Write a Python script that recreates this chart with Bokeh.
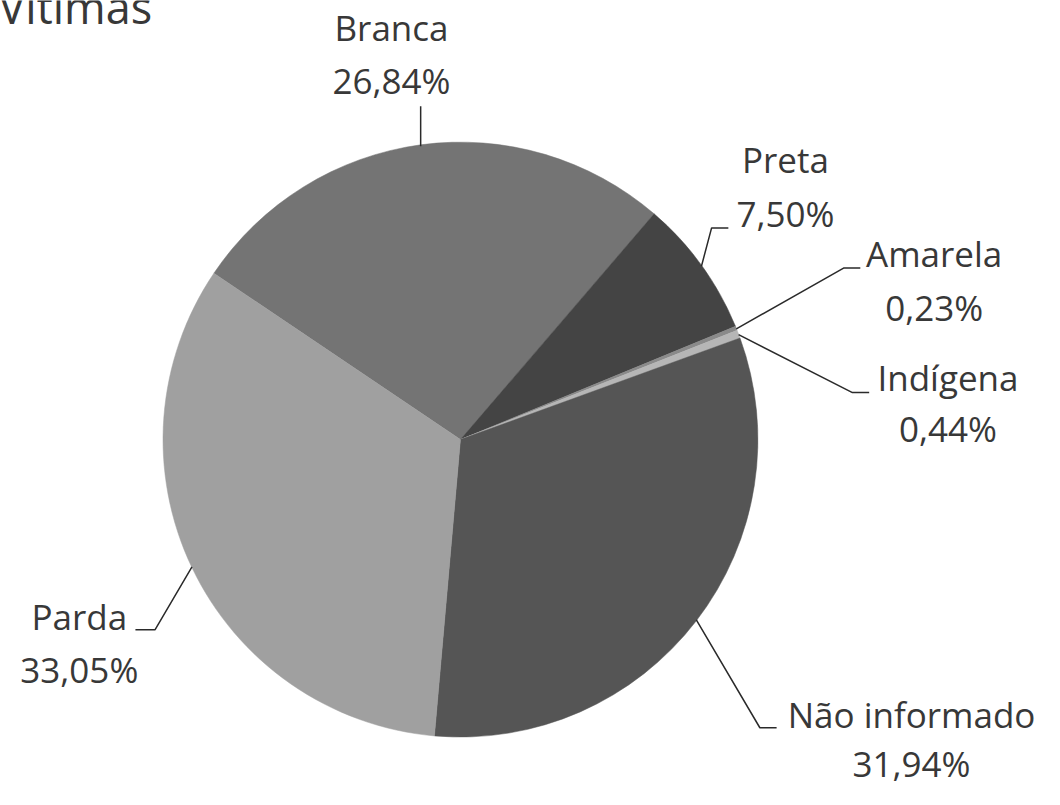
import math
from bokeh.plotting import figure
from bokeh.models import Range1d, ColumnDataSource
from bokeh.core.properties import value
from bokeh.embed import file_html
from bokeh.resources import INLINE

# ---- data ----
categories = ["Branca", "Preta", "Amarela", "Indígena", "Não informado", "Parda"]
percentages = [26.84, 7.50, 0.23, 0.44, 31.94, 33.05]
colors = ["#747474", "#444444", "#8a8a8a", "#b6b6b6", "#555555", "#a0a0a0"]
title_text = "Vítimas"

# ---- layout (reference pixel coordinates, y downward) ----
W, H = 1060, 805
CX, CY, R = 467, 448, 302
START_DEG = 146.0
FONT = value("Open Sans")
FS = "35px"
TXT = "#383838"
TEXT_DY = 15      # compensation for how the baseline is placed
TITLE_DY = 17

# label centers / baselines (ref coords)
label_pos = {
    "Branca": (397, 43, 97),
    "Preta": (797, 177, 232),
    "Amarela": (948, 273, 328),
    "Indígena": (962, 400, 452),
    "Não informado": (925, 743, 793),
    "Parda": (80, 643, 698),
}
# leader-line elbow / end points (ref coords)
leader_tail = {
    "Branca": [(None, 108)],
    "Preta": [(722, 232), (739, 232)],
    "Amarela": [(856, 273), (873, 273)],
    "Indígena": [(865, 400), (882, 400)],
    "Não informado": [(771, 742), (788, 742)],
    "Parda": [(157, 642), (137, 642)],
}


def fy(y):
    return H - y


p = figure(width=1044, height=789, output_backend="svg", toolbar_location=None,
           x_range=Range1d(0, W), y_range=Range1d(0, H), min_border=0)
p.axis.visible = False
p.grid.visible = False
p.outline_line_color = None
p.background_fill_color = "white"
p.border_fill_color = "white"

starts, ends, mids = [], [], []
a = START_DEG
for v in percentages:
    s = a
    e = a - v * 3.6
    starts.append(math.radians(s))
    ends.append(math.radians(e))
    mids.append(math.radians((s + e) / 2))
    a = e

src = ColumnDataSource(dict(x=[CX] * len(categories), y=[fy(CY)] * len(categories),
                            start=starts, end=ends, color=colors, cat=categories))
p.wedge(x="x", y="y", radius=R, start_angle="start", end_angle="end",
        direction="clock", fill_color="color", line_color="color", line_width=0.5,
        source=src)

# leader lines
xs, ys = [], []
for cat, m in zip(categories, mids):
    x0 = CX + R * math.cos(m)
    y0 = CY - R * math.sin(m)
    lx, ly = [x0], [fy(y0)]
    for (tx, ty) in leader_tail[cat]:
        lx.append(x0 if tx is None else tx)
        ly.append(fy(ty))
    xs.append(lx)
    ys.append(ly)
p.multi_line(xs=xs, ys=ys, line_color="#2a2a2a", line_width=1.5)

# labels
nx, ny, nt, px, py, pt = [], [], [], [], [], []
for cat, v in zip(categories, percentages):
    cx, b1, b2 = label_pos[cat]
    nx.append(cx); ny.append(fy(b1 - TEXT_DY)); nt.append(cat)
    px.append(cx); py.append(fy(b2 - TEXT_DY)); pt.append(f"{v:.2f}".replace(".", ",") + "%")
p.text(x=nx, y=ny, text=nt, text_align="center", text_baseline="alphabetic",
       text_font=FONT, text_font_size=FS, text_color=TXT)
p.text(x=px, y=py, text=pt, text_align="center", text_baseline="alphabetic",
       text_font=FONT, text_font_size=FS, text_color=TXT)

# title (partially cut off at the top, as in the reference)
p.text(x=[-2], y=[fy(23 - TITLE_DY)], text=[title_text], text_align="left",
       text_baseline="alphabetic", text_font=FONT, text_font_size="45px", text_color=TXT)

open("out.html", "w").write(file_html(p, INLINE))
